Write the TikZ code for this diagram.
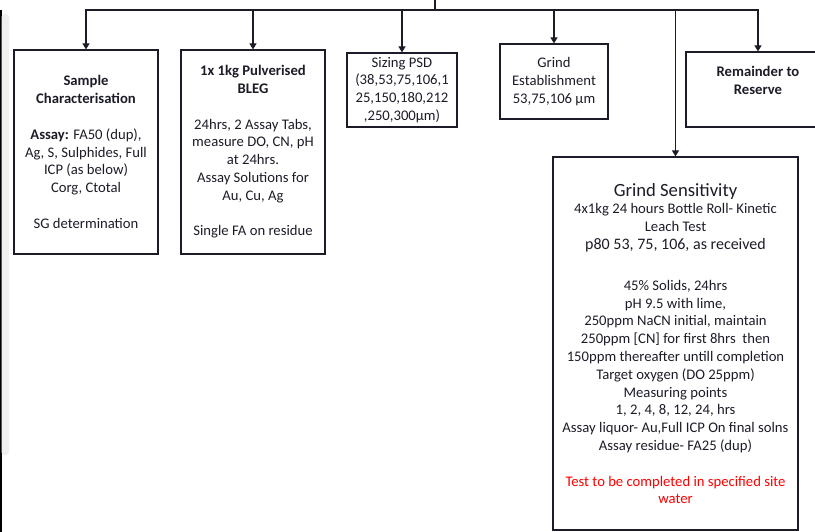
\documentclass[tikz,border=0pt]{standalone}
\usepackage{fontspec}
\setmainfont{Carlito}
\usetikzlibrary{positioning, arrows.meta}
\definecolor{ink}{RGB}{28,28,40}
\tikzstyle{Arrow} = [
%Connector with a small solid head:
line width=1.2pt, draw=ink,
-{Triangle[length=6pt, width=7pt]}
]

\begin{document}
\begin{tikzpicture}[x=1pt, y=-1pt,
				stage/.style = {rectangle, draw=ink, line width=1.2pt, align=center, inner sep=0pt, text=ink, font=\fontsize{14.67}{17.8}\selectfont},
				wide/.style = {stage, minimum width=144pt},
				small/.style = {stage, minimum width=108pt},
			]
			\useasboundingbox (0,0) rectangle (815,532);
			\fill[black] (0,10) rectangle (1.5,532);
			\fill[gray!12, rounded corners=3pt] (1.5,14) rectangle (9,455);

			\coordinate(T) at (435,0);
			\coordinate(H) at (435,10);

			\node[wide, minimum height=204pt](SC) at (86,152){\textbf{Sample}\\\textbf{Characterisation}\\[17.8pt]\textbf{Assay:} FA50 (dup),\\Ag, S, Sulphides, Full\\ICP (as below)\\Corg, Ctotal\\[17.8pt]SG determination};
			\node[wide, minimum height=204pt](BL) at (253,152){\textbf{1x 1kg Pulverised}\\\textbf{BLEG}\\[17.8pt]24hrs, 2 Assay Tabs,\\measure DO, CN, pH\\at 24hrs.\\Assay Solutions for\\Au, Cu, Ag\\[17.8pt]Single FA on residue};
			\node[small, minimum width=110pt, minimum height=74pt](PSD) at (402,90){Sizing PSD\\(38,53,75,106,1\\25,150,180,212\\,250,300µm)};
			\node[small, minimum height=75pt](GE) at (554,81.5){Grind\\Establishment\\53,75,106 µm};
			\node[wide, minimum height=75pt](RR) at (758,89.5){\textbf{Remainder to}\\\textbf{Reserve}\\\mbox{}};
			\node[stage, minimum width=245pt, minimum height=373pt](GS) at (675.5,343.5){{\fontsize{18.67}{22}\selectfont Grind Sensitivity}\\4x1kg 24 hours Bottle Roll- Kinetic\\Leach Test\\{\fontsize{16}{19}\selectfont p80 53, 75, 106, as received}\\[23pt]45\% Solids, 24hrs\\pH 9.5 with lime,\\250ppm NaCN initial, maintain\\250ppm [CN] for first 8hrs~ then\\150ppm thereafter untill completion\\Target oxygen (DO 25ppm)\\Measuring points\\1, 2, 4, 8, 12, 24, hrs\\Assay liquor- Au,Full ICP On final solns\\Assay residue- FA25 (dup)\\[17.8pt]{\color{red}Test to be completed in specified site}\\{\color{red}water}};

			\draw[line width=1.2pt, draw=ink](T)--(H);
			\draw[Arrow](H)-|(SC.north);
			\draw[Arrow](H)-|(BL.north);
			\draw[Arrow](H)-|(PSD.north);
			\draw[Arrow](H)-|(GE.north);
			\draw[Arrow](H)-|(RR.north);
			\draw[Arrow](H)-|(GS.north);

		\end{tikzpicture}
\end{document}
